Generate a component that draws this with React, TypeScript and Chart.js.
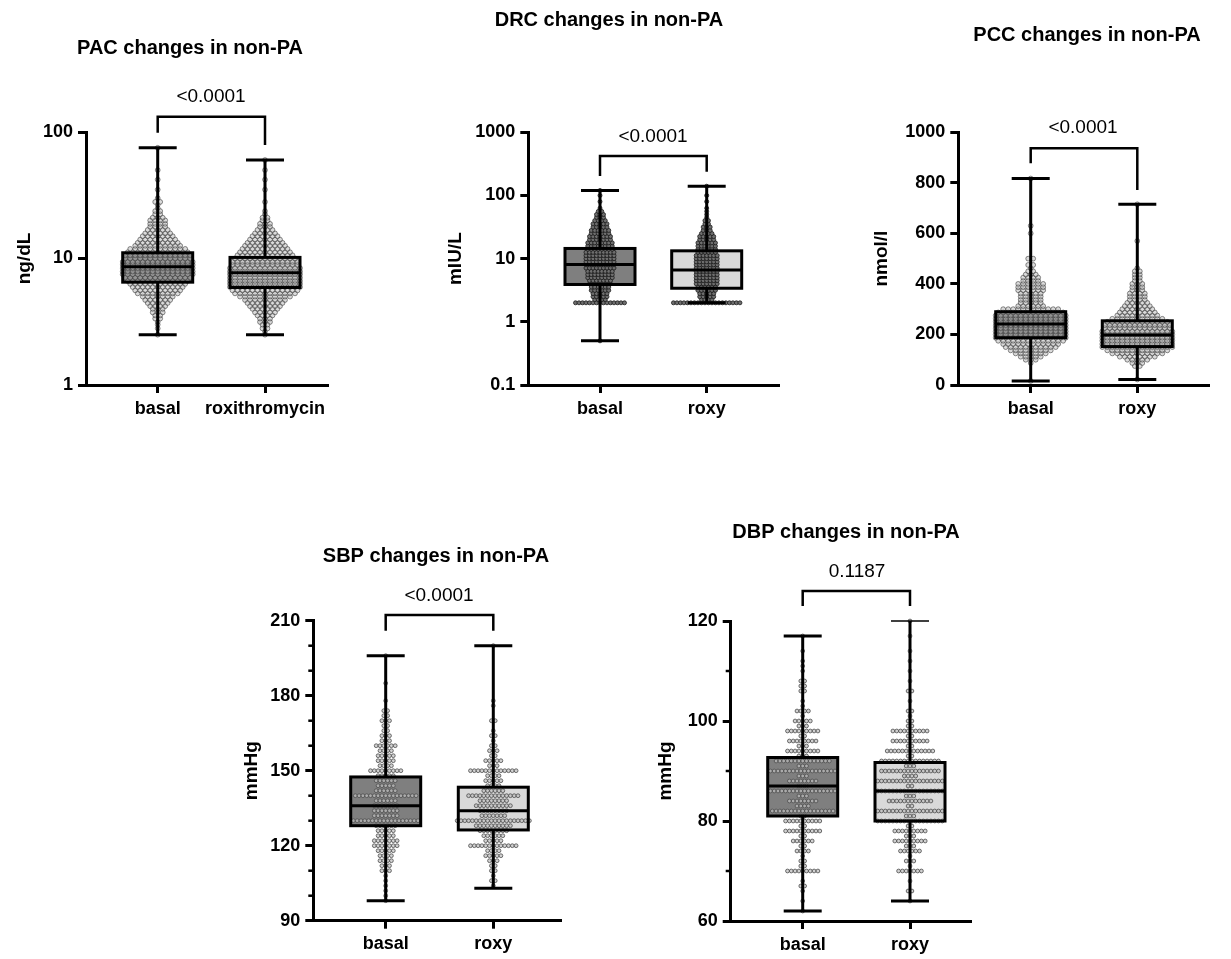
import React, { useEffect, useRef } from 'react';
import { Chart, registerables } from 'chart.js';

Chart.register(...registerables);

const FONT = "'Liberation Sans', Arial, Helvetica, sans-serif";

// ---------------- categories / labels ----------------
const pacLabels = ['basal', 'roxithromycin'];
const shortLabels = ['basal', 'roxy'];

// ---------------- y tick labels ----------------
const pacTicks = [1, 10, 100];
const drcTicks = [0.1, 1, 10, 100, 1000];
const pccTicks = [0, 200, 400, 600, 800, 1000];
const sbpTicks = [90, 120, 150, 180, 210];
const sbpMinorTicks = [100, 110, 130, 140, 160, 170, 190, 200];
const dbpTicks = [60, 80, 100, 120];
const dbpMinorTicks = [70, 90, 110];

// ---------------- p values ----------------
const pacP = '<0.0001';
const drcP = '<0.0001';
const pccP = '<0.0001';
const sbpP = '<0.0001';
const dbpP = '0.1187';

// ---------------- box stats: [min, Q1, median, Q3, max] ----------------
const pacBasalStats = [2.5, 6.5, 8.6, 11.1, 75];
const pacRoxyStats = [2.5, 5.9, 7.7, 10.2, 60];
const drcBasalStats = [0.5, 3.9, 8.1, 14.5, 120];
const drcRoxyStats = [2.0, 3.4, 6.6, 13.3, 140];
const pccBasalStats = [16, 187, 241, 290, 817];
const pccRoxyStats = [22, 152, 198, 254, 715];
const sbpBasalStats = [98, 128, 136, 147.5, 196];
const sbpRoxyStats = [103, 126.3, 134, 143.4, 200];
const dbpBasalStats = [62, 81, 87, 92.7, 117];
const dbpRoxyStats = [64, 80, 86, 91.7, 120];

// ---------------- individual values (value levels + number of subjects at each) ----------------
const pacLevels = [2.5, 2.65, 2.8, 3.0, 3.15, 3.35, 3.55, 3.75, 4.0, 4.2, 4.45, 4.7, 5.0, 5.3, 5.6, 5.95, 6.3, 6.65, 7.05, 7.5, 7.9, 8.4, 8.9, 9.4, 10, 10.6, 11.2, 11.9, 12.6, 13.3, 14.1, 15, 15.8, 16.8, 17.8, 18.8, 20, 21, 22.4, 23.7, 25, 26.6, 28, 30, 35, 42, 50, 60, 75];
const pacBasalCounts = [1, 0, 1, 1, 1, 2, 2, 3, 3, 4, 5, 6, 7, 9, 10, 11, 12, 13, 14, 15, 15, 15, 15, 15, 14, 14, 13, 12, 10, 9, 8, 7, 6, 5, 4, 4, 4, 3, 2, 2, 1, 1, 2, 1, 1, 1, 1, 0, 1];
const pacRoxyCounts = [1, 1, 2, 2, 3, 3, 4, 5, 6, 7, 8, 9, 11, 13, 14, 15, 15, 15, 15, 15, 15, 15, 14, 14, 13, 12, 11, 10, 9, 8, 7, 6, 5, 4, 3, 3, 2, 2, 1, 1, 0, 0, 1, 0, 1, 1, 1, 1, 0];

const drcLevels = [0.5, 2.0, 2.25, 2.5, 2.8, 3.15, 3.55, 4.0, 4.5, 5.0, 5.6, 6.3, 7.1, 8.0, 8.9, 10, 11.2, 12.6, 14.1, 15.8, 17.8, 20, 22.4, 25, 28, 31.6, 35.5, 40, 45, 50, 56, 63, 80, 100, 120, 140];
const drcBasalCounts = [1, 15, 4, 5, 5, 6, 6, 7, 7, 8, 8, 8, 9, 9, 9, 9, 9, 9, 8, 8, 8, 7, 7, 6, 6, 5, 5, 4, 3, 3, 2, 1, 1, 1, 1, 0];
const drcRoxyCounts = [0, 20, 4, 5, 5, 6, 6, 7, 7, 7, 7, 7, 7, 7, 7, 7, 7, 6, 6, 6, 6, 5, 5, 4, 3, 3, 2, 2, 1, 1, 1, 1, 1, 1, 0, 1];

const pccLevels = [16, 22, 75, 87, 100, 112, 125, 137, 150, 162, 175, 187, 200, 212, 225, 237, 250, 262, 275, 287, 300, 312, 325, 337, 350, 362, 375, 387, 400, 412, 425, 437, 450, 462, 475, 500, 570, 600, 630, 715, 817];
const pccBasalCounts = [1, 0, 0, 1, 3, 5, 7, 9, 11, 12, 14, 15, 15, 15, 15, 15, 15, 15, 15, 14, 12, 6, 5, 5, 5, 5, 6, 6, 6, 4, 4, 3, 2, 1, 2, 2, 0, 1, 1, 0, 1];
const pccRoxyCounts = [0, 1, 2, 3, 5, 8, 11, 13, 15, 15, 15, 15, 15, 15, 14, 14, 13, 11, 9, 8, 7, 6, 5, 4, 4, 4, 3, 3, 3, 2, 2, 2, 2, 1, 0, 0, 1, 0, 0, 1, 0];

const sbpLevels = [98, 100, 102, 104, 106, 108, 110, 112, 114, 116, 118, 120, 122, 124, 126, 128, 130, 132, 134, 136, 138, 140, 142, 144, 146, 148, 150, 152, 154, 156, 158, 160, 162, 164, 166, 168, 170, 172, 174, 176, 178, 185, 196, 200];
const sbpBasalCounts = [1, 1, 1, 1, 1, 1, 3, 3, 4, 4, 5, 7, 7, 5, 5, 6, 18, 7, 7, 7, 6, 17, 6, 5, 6, 5, 9, 4, 5, 5, 4, 6, 3, 3, 2, 2, 3, 2, 2, 0, 1, 1, 1, 0];
const sbpRoxyCounts = [0, 0, 0, 1, 2, 1, 2, 2, 3, 5, 4, 13, 5, 6, 8, 10, 20, 7, 8, 10, 8, 14, 6, 4, 5, 4, 13, 3, 5, 2, 3, 2, 1, 2, 1, 0, 2, 0, 0, 1, 1, 0, 0, 1];

const dbpLevels = [62, 64, 66, 67, 68, 70, 71, 72, 73, 74, 75, 76, 77, 78, 79, 80, 81, 82, 83, 84, 85, 86, 87, 88, 89, 90, 91, 92, 93, 94, 95, 96, 97, 98, 99, 100, 101, 102, 103, 104, 106, 107, 108, 110, 111, 112, 114, 117, 120];
const dbpBasalCounts = [1, 1, 1, 2, 1, 9, 2, 2, 1, 4, 2, 6, 2, 10, 2, 10, 2, 17, 4, 8, 3, 18, 3, 8, 3, 18, 3, 15, 3, 9, 3, 8, 2, 9, 3, 5, 1, 4, 1, 1, 2, 2, 2, 1, 1, 1, 1, 1, 0];
const dbpRoxyCounts = [0, 1, 2, 0, 1, 7, 1, 3, 1, 6, 3, 9, 3, 9, 2, 18, 3, 18, 2, 12, 3, 18, 2, 18, 4, 16, 3, 16, 2, 13, 2, 10, 2, 10, 2, 2, 1, 2, 0, 1, 2, 0, 1, 1, 0, 1, 1, 1, 1];

// ---------------- panel layout (page pixels) ----------------
type Geo = {
  left: number; top: number; width: number; height: number;
  axisX: number; xEnd: number; yTop: number; yBot: number;
  cat0: number; cat1: number;
  titleX: number; titleY: number; yTitleX: number;
  pX: number; pY: number; brTop: number; brL: number; brR: number;
  dot: number; r: number;
};

type Panel = {
  key: string; title: string; yTitle: string; labels: string[];
  yType: 'linear' | 'logarithmic'; yMin: number; yMax: number;
  yTicks: number[]; minor: number[]; pValue: string;
  levels: number[]; counts: number[][]; stats: number[][];
  dotFill: string; dotStroke: string; geo: Geo;
};

const panels: Panel[] = [
  {
    key: 'pac', title: 'PAC changes in non-PA', yTitle: 'ng/dL', labels: pacLabels,
    yType: 'logarithmic', yMin: 1, yMax: 100, yTicks: pacTicks, minor: [], pValue: pacP,
    levels: pacLevels, counts: [pacBasalCounts, pacRoxyCounts], stats: [pacBasalStats, pacRoxyStats],
    dotFill: 'rgba(175,175,175,0.45)', dotStroke: 'rgba(60,60,60,0.75)',
    geo: { left: 0, top: 0, width: 340, height: 430, axisX: 86, xEnd: 327, yTop: 132, yBot: 385, cat0: 157.7, cat1: 265,
      titleX: 190, titleY: 48, yTitleX: 25, pX: 211, pY: 97, brTop: 116.7, brL: 132.7, brR: 145, dot: 5, r: 2.4 },
  },
  {
    key: 'drc', title: 'DRC changes in non-PA', yTitle: 'mIU/L', labels: shortLabels,
    yType: 'logarithmic', yMin: 0.1, yMax: 1000, yTicks: drcTicks, minor: [], pValue: drcP,
    levels: drcLevels, counts: [drcBasalCounts, drcRoxyCounts], stats: [drcBasalStats, drcRoxyStats],
    dotFill: '#6e6e6e', dotStroke: '#1a1a1a',
    geo: { left: 420, top: 0, width: 370, height: 430, axisX: 528.3, xEnd: 778, yTop: 132.3, yBot: 385, cat0: 600, cat1: 706.7,
      titleX: 609, titleY: 20, yTitleX: 456, pX: 653, pY: 137, brTop: 156, brL: 176, brR: 171.7, dot: 3.5, r: 2 },
  },
  {
    key: 'pcc', title: 'PCC changes in non-PA', yTitle: 'nmol/l', labels: shortLabels,
    yType: 'linear', yMin: 0, yMax: 1000, yTicks: pccTicks, minor: [], pValue: pccP,
    levels: pccLevels, counts: [pccBasalCounts, pccRoxyCounts], stats: [pccBasalStats, pccRoxyStats],
    dotFill: 'rgba(175,175,175,0.45)', dotStroke: 'rgba(60,60,60,0.75)',
    geo: { left: 850, top: 0, width: 381, height: 430, axisX: 958.3, xEnd: 1208, yTop: 132.3, yBot: 385, cat0: 1030.7, cat1: 1137.3,
      titleX: 1087, titleY: 35, yTitleX: 882, pX: 1083, pY: 128, brTop: 148.3, brL: 163.3, brR: 190, dot: 5, r: 2.4 },
  },
  {
    key: 'sbp', title: 'SBP changes in non-PA', yTitle: 'mmHg', labels: shortLabels,
    yType: 'linear', yMin: 90, yMax: 210, yTicks: sbpTicks, minor: sbpMinorTicks, pValue: sbpP,
    levels: sbpLevels, counts: [sbpBasalCounts, sbpRoxyCounts], stats: [sbpBasalStats, sbpRoxyStats],
    dotFill: 'rgba(190,190,190,0.7)', dotStroke: '#4d4d4d',
    geo: { left: 220, top: 480, width: 350, height: 479, axisX: 313.3, xEnd: 560, yTop: 620.7, yBot: 920.7, cat0: 385.7, cat1: 493.3,
      titleX: 436, titleY: 556, yTitleX: 252, pX: 439, pY: 596, brTop: 615, brL: 630.7, brR: 630.7, dot: 3.8, r: 1.9 },
  },
  {
    key: 'dbp', title: 'DBP changes in non-PA', yTitle: 'mmHg', labels: shortLabels,
    yType: 'linear', yMin: 60, yMax: 120, yTicks: dbpTicks, minor: dbpMinorTicks, pValue: dbpP,
    levels: dbpLevels, counts: [dbpBasalCounts, dbpRoxyCounts], stats: [dbpBasalStats, dbpRoxyStats],
    dotFill: 'rgba(190,190,190,0.7)', dotStroke: '#4d4d4d',
    geo: { left: 640, top: 480, width: 340, height: 479, axisX: 730.7, xEnd: 970, yTop: 621, yBot: 921, cat0: 802.7, cat1: 910,
      titleX: 846, titleY: 532, yTitleX: 666, pX: 857, pY: 572, brTop: 591, brL: 606, brR: 606, dot: 3.8, r: 1.9 },
  },
];

const BOX_COLORS = ['#7f7f7f', '#d9d9d9'];
const BOX_HALF = 35;
const CAP_HALF = 19;

function PanelChart({ p }: { p: Panel }) {
  const ref = useRef<HTMLCanvasElement>(null);

  useEffect(() => {
    const canvas = ref.current;
    if (!canvas) return;
    const g = p.geo;
    const ppu = g.cat1 - g.cat0;
    const xMin = -(g.cat0 - g.axisX) / ppu;
    const xMax = 1 + (g.xEnd - g.cat1) / ppu;

    const scatterSets = p.counts.map((cnts, gi) => {
      const pts: { x: number; y: number }[] = [];
      p.levels.forEach((v, li) => {
        const n = cnts[li] || 0;
        for (let k = 0; k < n; k++) {
          pts.push({ x: gi + ((k - (n - 1) / 2) * g.dot) / ppu, y: v });
        }
      });
      return {
        type: 'scatter' as const,
        label: p.labels[gi],
        data: pts,
        pointRadius: g.r,
        pointHoverRadius: g.r,
        pointBackgroundColor: p.dotFill,
        pointBorderColor: p.dotStroke,
        pointBorderWidth: 0.8,
        order: 0,
        clip: false as any,
      };
    });

    const boxSet = {
      type: 'bar' as const,
      label: 'box',
      data: p.stats.map((s, i) => ({ x: i, y: [s[1], s[3]] })),
      backgroundColor: BOX_COLORS,
      borderWidth: 0,
      barThickness: BOX_HALF * 2,
      order: 1,
    };

    const line = (ctx: CanvasRenderingContext2D, x1: number, y1: number, x2: number, y2: number) => {
      ctx.beginPath();
      ctx.moveTo(x1, y1);
      ctx.lineTo(x2, y2);
      ctx.stroke();
    };

    const decor = {
      id: 'decor_' + p.key,
      afterDatasetsDraw(chart: any) {
        const ctx: CanvasRenderingContext2D = chart.ctx;
        const xs = chart.scales.x;
        const ys = chart.scales.y;
        ctx.save();
        ctx.strokeStyle = '#000';
        ctx.lineCap = 'butt';
        p.stats.forEach((s, i) => {
          const cx = xs.getPixelForValue(i);
          const [mn, q1, med, q3, mx] = s;
          const pMin = ys.getPixelForValue(mn);
          const pQ1 = ys.getPixelForValue(q1);
          const pMed = ys.getPixelForValue(med);
          const pQ3 = ys.getPixelForValue(q3);
          const pMax = ys.getPixelForValue(mx);
          ctx.lineWidth = 3;
          line(ctx, cx, pQ3, cx, pMax);
          line(ctx, cx, pQ1, cx, pMin);
          line(ctx, cx - CAP_HALF, pMin, cx + CAP_HALF, pMin);
          ctx.lineWidth = mx >= p.yMax ? 1.5 : 3;
          line(ctx, cx - CAP_HALF, pMax, cx + CAP_HALF, pMax);
          ctx.lineWidth = 3;
          ctx.strokeRect(cx - BOX_HALF, pQ3, BOX_HALF * 2, pQ1 - pQ3);
          line(ctx, cx - BOX_HALF, pMed, cx + BOX_HALF, pMed);
        });
        ctx.restore();
      },
      afterDraw(chart: any) {
        const ctx: CanvasRenderingContext2D = chart.ctx;
        const xs = chart.scales.x;
        const ys = chart.scales.y;
        const ox = g.left;
        const oy = g.top;
        ctx.save();
        // minor ticks
        ctx.strokeStyle = '#000';
        ctx.lineWidth = 2.5;
        p.minor.forEach((v) => {
          const y = ys.getPixelForValue(v);
          line(ctx, chart.chartArea.left - 5, y, chart.chartArea.left, y);
        });
        // bracket
        const x0 = xs.getPixelForValue(0);
        const x1 = xs.getPixelForValue(1);
        ctx.lineWidth = 2.5;
        ctx.beginPath();
        ctx.moveTo(x0, g.brL - oy);
        ctx.lineTo(x0, g.brTop - oy);
        ctx.lineTo(x1, g.brTop - oy);
        ctx.lineTo(x1, g.brR - oy);
        ctx.stroke();
        // texts
        ctx.fillStyle = '#000';
        ctx.textAlign = 'center';
        ctx.textBaseline = 'middle';
        ctx.font = `19px ${FONT}`;
        ctx.fillText(p.pValue, g.pX - ox, g.pY - oy);
        ctx.font = `bold 20px ${FONT}`;
        ctx.fillText(p.title, g.titleX - ox, g.titleY - oy);
        ctx.restore();
      },
    };

    const tickFont = { family: FONT, size: 18, weight: 'bold' as const };
    const axisGrid = {
      drawOnChartArea: false,
      drawTicks: true,
      offset: false,
      tickLength: 8,
      tickWidth: 3,
      tickColor: '#000',
      color: '#000',
      lineWidth: 3,
    };
    const axisBorder = { display: true, color: '#000', width: 3 };
    const yTitleLH = 19 * 1.2;

    const chart = new Chart(canvas, {
      type: 'scatter',
      data: { datasets: [...scatterSets, boxSet] as any },
      plugins: [decor as any],
      options: {
        responsive: false,
        maintainAspectRatio: false,
        animation: false,
        devicePixelRatio: 1,
        events: [],
        layout: {
          padding: { left: 0, top: g.yTop - g.top, right: g.left + g.width - g.xEnd, bottom: 0 },
        },
        plugins: {
          legend: { display: false },
          tooltip: { enabled: false },
          title: { display: false },
        },
        scales: {
          x: {
            type: 'linear',
            offset: false,
            min: xMin,
            max: xMax,
            afterBuildTicks: (s: any) => {
              s.ticks = p.labels.map((_, i) => ({ value: i }));
            },
            afterFit: (s: any) => {
              s.height = g.top + g.height - g.yBot;
            },
            ticks: {
              callback: (_v: any, i: number) => p.labels[i],
              font: tickFont,
              color: '#000',
              padding: 5,
              autoSkip: false,
              maxRotation: 0,
              minRotation: 0,
            },
            grid: axisGrid,
            border: axisBorder,
          },
          y: {
            type: p.yType,
            offset: false,
            beginAtZero: false,
            min: p.yMin,
            max: p.yMax,
            afterBuildTicks: (s: any) => {
              s.ticks = p.yTicks.map((v) => ({ value: v }));
            },
            afterFit: (s: any) => {
              s.width = g.axisX - g.left;
            },
            ticks: {
              callback: (v: any) => String(v),
              font: tickFont,
              color: '#000',
              padding: 5,
              autoSkip: false,
            },
            grid: axisGrid,
            border: axisBorder,
            title: {
              display: true,
              text: p.yTitle,
              color: '#000',
              font: { family: FONT, size: 19, weight: 'bold' },
              padding: { top: g.yTitleX - g.left - yTitleLH / 2, bottom: 0 },
            },
          } as any,
        },
      } as any,
    });

    return () => {
      chart.destroy();
    };
  }, [p]);

  const g = p.geo;
  return (
    <canvas
      ref={ref}
      width={g.width}
      height={g.height}
      style={{ position: 'absolute', left: g.left, top: g.top, width: g.width, height: g.height }}
    />
  );
}

export default function App() {
  return (
    <div
      style={{
        position: 'absolute',
        left: 0,
        top: 0,
        width: 1231,
        height: 959,
        background: '#ffffff',
        overflow: 'hidden',
      }}
    >
      {panels.map((p) => (
        <PanelChart key={p.key} p={p} />
      ))}
    </div>
  );
}
